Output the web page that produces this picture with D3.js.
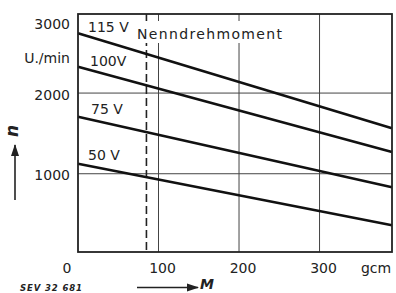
<!DOCTYPE html>
<html lang="de">
<head>
<meta charset="UTF-8">
<title>Drehzahl-Kennlinien</title>
<script src="https://d3js.org/d3.v7.min.js"></script>
<style>
  body { margin: 0; background: #fff; }
  svg { display: block; font-family: "DejaVu Sans", sans-serif; }
  .grid { stroke: #444; stroke-width: 1; }
  .curve { fill: none; stroke: #111; stroke-width: 2.6; }
  .lbl { font-size: 14px; fill: #222; }
</style>
</head>
<body>
<div id="chart"></div>
<script>
// Daten
const momentEnds = [0, 390];              // gcm
const voltages = ["115 V", "100V", "75 V", "50 V"];
const speedStart = [2740, 2326, 1707, 1124]; // U/min bei M = 0
const speedEnd = [1563, 1269, 832, 361];     // U/min bei M = 390
const xTicks = [100, 200, 300];
const yTicks = [1000, 2000];
const nennMoment = 85;

const width = 396, height = 293;
const x = d3.scaleLinear().domain([0, 390]).range([78, 392]);
const y = d3.scaleLinear().domain([30, 2980]).range([252, 14]);

const svg = d3.select("#chart").append("svg")
  .attr("width", width).attr("height", height);

// Gitter
svg.selectAll(".vg").data(xTicks).enter().append("line")
  .attr("class", "grid")
  .attr("x1", d => x(d)).attr("x2", d => x(d))
  .attr("y1", y.range()[1]).attr("y2", y.range()[0]);
svg.selectAll(".hg").data(yTicks).enter().append("line")
  .attr("class", "grid")
  .attr("x1", x.range()[0]).attr("x2", x.range()[1])
  .attr("y1", d => y(d)).attr("y2", d => y(d));

// Nennmoment (gestrichelt)
svg.append("line")
  .attr("x1", x(nennMoment)).attr("x2", x(nennMoment))
  .attr("y1", y.range()[1]).attr("y2", y.range()[0])
  .attr("stroke", "#222").attr("stroke-width", 1.6)
  .attr("stroke-dasharray", "8,4");

// Kennlinien
const series = voltages.map((v, i) => ({
  name: v,
  pts: [[momentEnds[0], speedStart[i]], [momentEnds[1], speedEnd[i]]]
}));
const line = d3.line().x(d => x(d[0])).y(d => y(d[1]));
svg.selectAll(".curve").data(series).enter().append("path")
  .attr("class", "curve")
  .attr("d", d => line(d.pts));

// Kurvenbeschriftung
const labelY = [31.5, 65.5, 114, 159.5];
const labelX = [88, 90, 91, 88];
svg.selectAll(".vl").data(voltages).enter().append("text")
  .attr("class", "lbl")
  .attr("x", (d, i) => labelX[i]).attr("y", (d, i) => labelY[i])
  .text(d => d);

// Nenndrehmoment-Beschriftung mit weissem Hintergrund
svg.append("rect")
  .attr("x", 134).attr("y", 21).attr("width", 152).attr("height", 22)
  .attr("fill", "#fff");
svg.append("text").attr("class", "lbl")
  .attr("x", 137).attr("y", 38.5)
  .attr("textLength", 145).attr("lengthAdjust", "spacing")
  .text("Nenndrehmoment");

// Rahmen
svg.append("rect")
  .attr("x", x.range()[0]).attr("y", y.range()[1])
  .attr("width", x.range()[1] - x.range()[0])
  .attr("height", y.range()[0] - y.range()[1])
  .attr("fill", "none").attr("stroke", "#222").attr("stroke-width", 1.8);

// Y-Achse
svg.selectAll(".yl").data(yTicks).enter().append("text")
  .attr("class", "lbl").attr("text-anchor", "end")
  .attr("x", 70).attr("y", d => y(d) + 6.5)
  .text(d => d);
svg.append("text").attr("class", "lbl").attr("text-anchor", "end")
  .attr("x", 70).attr("y", 28.5).text("3000");
svg.append("text").attr("class", "lbl").attr("text-anchor", "end")
  .attr("x", 70).attr("y", 63).text("U./min");

// X-Achse
svg.selectAll(".xl").data(xTicks).enter().append("text")
  .attr("class", "lbl").attr("text-anchor", "middle")
  .attr("x", d => x(d) + 4).attr("y", 272.5)
  .text(d => d);
svg.append("text").attr("class", "lbl").attr("text-anchor", "middle")
  .attr("x", 67).attr("y", 272.5).text("0");
svg.append("text").attr("class", "lbl").attr("text-anchor", "middle")
  .attr("x", 376).attr("y", 272.5).text("gcm");

// Pfeile
const defs = svg.append("defs");
defs.append("marker").attr("id", "ah")
  .attr("viewBox", "0 0 12 10").attr("refX", 11).attr("refY", 5)
  .attr("markerWidth", 7.5).attr("markerHeight", 6.5).attr("orient", "auto")
  .append("path").attr("d", "M0,1 L12,5 L0,9 Z").attr("fill", "#222");

svg.append("line")
  .attr("x1", 15).attr("y1", 200).attr("x2", 15).attr("y2", 145)
  .attr("stroke", "#222").attr("stroke-width", 1.6)
  .attr("marker-end", "url(#ah)");
svg.append("text")
  .attr("transform", "translate(18,131) rotate(-90)")
  .attr("text-anchor", "middle")
  .attr("font-size", 17).attr("font-weight", "bold").attr("font-style", "italic")
  .attr("fill", "#222").text("n");

svg.append("line")
  .attr("x1", 137).attr("y1", 287.5).attr("x2", 198).attr("y2", 287.5)
  .attr("stroke", "#222").attr("stroke-width", 1.6)
  .attr("marker-end", "url(#ah)");
svg.append("text")
  .attr("x", 200).attr("y", 289)
  .attr("font-size", 14).attr("font-weight", "bold").attr("font-style", "italic")
  .attr("fill", "#222").text("M");

svg.append("text")
  .attr("x", 20).attr("y", 290.5)
  .attr("font-size", 8.5).attr("font-weight", "bold").attr("font-style", "italic")
  .attr("textLength", 62).attr("lengthAdjust", "spacing")
  .attr("fill", "#222").text("SEV 32 681");
</script>
</body>
</html>
